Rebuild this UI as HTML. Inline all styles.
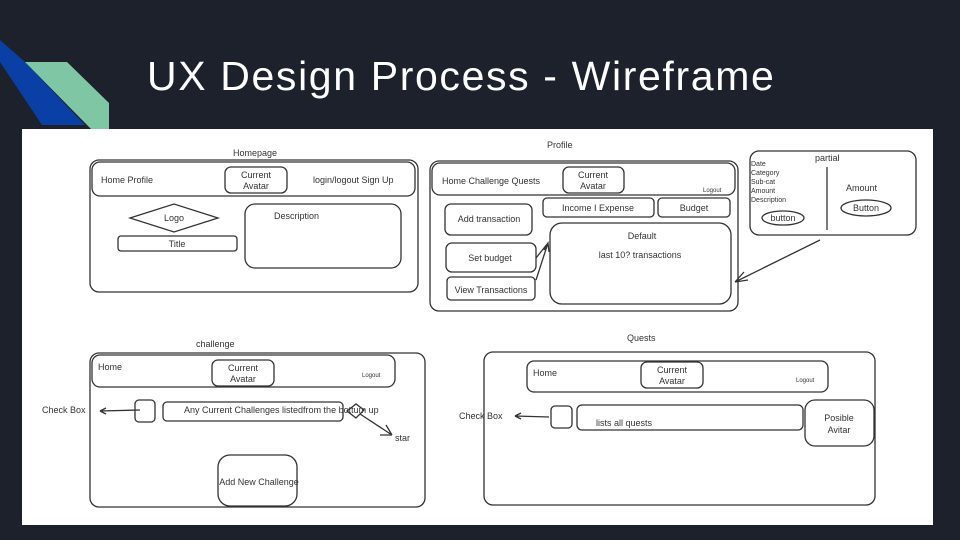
<!DOCTYPE html>
<html><head><meta charset="utf-8"><style>
html,body{margin:0;padding:0;background:#1c212b;}
svg{display:block}
.s{fill:none;stroke:#333;stroke-width:1.3}
.t{font-family:"Liberation Sans",sans-serif;font-size:9px;fill:#333}
</style></head><body>
<svg width="960" height="540" viewBox="0 0 960 540" xmlns="http://www.w3.org/2000/svg">
<rect width="960" height="540" fill="#1c212b"/>
<polygon points="0,40 25,62 85,125 42,125 0,62" fill="#0a3fa5"/>
<polygon points="25,62 67,62 109,103 109,130 92,130" fill="#7fc7a4"/>
<text x="147" y="90" font-family="Liberation Sans,sans-serif" font-size="41" letter-spacing="1.2" fill="#fff" textLength="628" lengthAdjust="spacing">UX Design Process -  Wireframe</text>
<rect x="22" y="129" width="911" height="396" fill="#fff"/>
<g class="s">
<rect x="90" y="160" width="328" height="132" rx="9"/>
<rect x="92" y="162" width="323" height="34" rx="8"/>
<rect x="225" y="167" width="62" height="26" rx="6"/>
<polygon points="130,218 174,204 218,218 174,232"/>
<rect x="118" y="236" width="119" height="15" rx="3"/>
<rect x="245" y="204" width="156" height="64" rx="10"/>
<rect x="430" y="161" width="308" height="150" rx="9"/>
<rect x="432" y="163" width="303" height="32" rx="8"/>
<rect x="563" y="167" width="61" height="26" rx="6"/>
<rect x="543" y="198" width="111" height="19" rx="4"/>
<rect x="658" y="198" width="72" height="19" rx="4"/>
<rect x="445" y="204" width="87" height="31" rx="6"/>
<rect x="446" y="243" width="90" height="29" rx="6"/>
<rect x="447" y="277" width="88" height="23" rx="4"/>
<rect x="550" y="223" width="181" height="81" rx="12"/>
<path d="M536,280 L548,243 M536,258 L548,243 M544,250 L548,243 L549,252"/>
<rect x="750" y="151" width="166" height="84" rx="9"/>
<line x1="827" y1="167" x2="827" y2="230"/>
<ellipse cx="783" cy="218" rx="21" ry="7"/>
<ellipse cx="866" cy="208" rx="25" ry="8"/>
<path d="M820,240 L735,282 M735,282 L748,280 M735,282 L744,272"/>
<rect x="90" y="353" width="335" height="154" rx="9"/>
<rect x="92" y="355" width="303" height="32" rx="8"/>
<rect x="212" y="360" width="62" height="26" rx="6"/>
<rect x="135" y="400" width="20" height="22" rx="4"/>
<rect x="163" y="402" width="180" height="19" rx="4"/>
<polygon points="347,411 356,404 364,410 356,418"/>
<path d="M140,410 L100,411 M100,411 L106,408 M100,411 L106,414"/>
<path d="M360,414 L392,435 M392,435 L380,435 M392,435 L386,425"/>
<rect x="218" y="455" width="79" height="51" rx="12"/>
<rect x="484" y="352" width="391" height="153" rx="9"/>
<rect x="527" y="361" width="301" height="31" rx="7"/>
<rect x="641" y="362" width="62" height="26" rx="6"/>
<rect x="551" y="406" width="21" height="22" rx="4"/>
<rect x="577" y="405" width="226" height="25" rx="5"/>
<rect x="805" y="400" width="69" height="46" rx="10"/>
<path d="M549,417 L515,416 M515,416 L521,413 M515,416 L521,419"/>
</g>
<g class="t">
<text x="233" y="156">Homepage</text>
<text x="101" y="183">Home  Profile</text>
<text x="256" y="178" text-anchor="middle">Current</text>
<text x="256" y="189" text-anchor="middle">Avatar</text>
<text x="313" y="183">login/logout  Sign Up</text>
<text x="174" y="221" text-anchor="middle">Logo</text>
<text x="177" y="247" text-anchor="middle">Title</text>
<text x="274" y="219">Description</text>
<text x="547" y="148">Profile</text>
<text x="442" y="184">Home  Challenge  Quests</text>
<text x="593" y="178" text-anchor="middle">Current</text>
<text x="593" y="189" text-anchor="middle">Avatar</text>
<text x="703" y="192" font-size="6">Logout</text>
<text x="598" y="211" text-anchor="middle">Income I Expense</text>
<text x="694" y="211" text-anchor="middle">Budget</text>
<text x="489" y="222" text-anchor="middle">Add transaction</text>
<text x="490" y="261" text-anchor="middle">Set budget</text>
<text x="491" y="293" text-anchor="middle">View Transactions</text>
<text x="642" y="239" text-anchor="middle">Default</text>
<text x="640" y="258" text-anchor="middle">last 10? transactions</text>
<text x="815" y="161">partial</text>
<g font-size="7"><text x="751" y="166">Date</text><text x="751" y="175">Category</text><text x="751" y="184">Sub-cat</text><text x="751" y="193">Amount</text><text x="751" y="202">Description</text></g>
<text x="783" y="221" text-anchor="middle">button</text>
<text x="846" y="191">Amount</text>
<text x="866" y="211" text-anchor="middle">Button</text>
<text x="196" y="347">challenge</text>
<text x="98" y="370">Home</text>
<text x="243" y="371" text-anchor="middle">Current</text>
<text x="243" y="382" text-anchor="middle">Avatar</text>
<text x="362" y="377" font-size="6">Logout</text>
<text x="42" y="413">Check Box</text>
<text x="184" y="413">Any Current Challenges listedfrom the bottum up</text>
<text x="395" y="441">star</text>
<text x="259" y="485" text-anchor="middle">Add New Challenge</text>
<text x="627" y="341">Quests</text>
<text x="533" y="376">Home</text>
<text x="672" y="373" text-anchor="middle">Current</text>
<text x="672" y="384" text-anchor="middle">Avatar</text>
<text x="796" y="382" font-size="6">Logout</text>
<text x="459" y="419">Check Box</text>
<text x="596" y="426">lists all quests</text>
<text x="839" y="421" text-anchor="middle">Posible</text>
<text x="839" y="433" text-anchor="middle">Avitar</text>
</g>
</svg>
</body></html>
